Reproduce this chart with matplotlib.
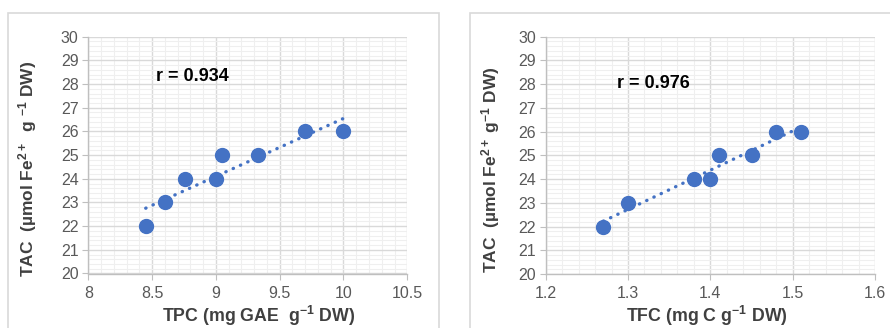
import numpy as np
import matplotlib
matplotlib.use('Agg')
import matplotlib.pyplot as plt
from matplotlib.patches import Rectangle
from matplotlib.ticker import MultipleLocator, FormatStrFormatter

plt.rcParams['font.family'] = ['Liberation Sans', 'DejaVu Sans']
plt.rcParams['mathtext.fontset'] = 'custom'
plt.rcParams['mathtext.rm'] = 'Liberation Sans:bold'
plt.rcParams['mathtext.it'] = 'Liberation Sans:bold'
plt.rcParams['mathtext.bf'] = 'Liberation Sans:bold'

# data
tpc = [8.45, 8.6, 8.76, 9.0, 9.05, 9.33, 9.7, 10.0]
tac_left = [22, 23, 24, 24, 25, 25, 26, 26]

tfc = [1.27, 1.30, 1.38, 1.40, 1.41, 1.45, 1.48, 1.51]
tac_right = [22, 23, 24, 24, 25, 25, 26, 26]

r_left = 'r = 0.934'
r_right = 'r = 0.976'

ylabel_left = r'TAC  (µmol Fe$^{2+}$  g $^{-1}$ DW)'
ylabel_right = r'TAC  (µmol Fe$^{2+}$ g$^{-1}$ DW)'
xlabel_left = r'TPC (mg GAE  g$^{-1}$ DW)'
xlabel_right = r'TFC (mg C g$^{-1}$ DW)'

blue = '#4472C4'
W, H = 890, 328

fig = plt.figure(figsize=(W / 100, H / 100), dpi=100)

# chart area borders
fig.patches.append(Rectangle((8 / W, -0.1), 431 / W, 1.1 - 13 / H,
                             transform=fig.transFigure, fill=False,
                             edgecolor='#D9D9D9', linewidth=1.2))
fig.patches.append(Rectangle((470 / W, -0.1), 0.5, 1.1 - 13 / H,
                             transform=fig.transFigure, fill=False,
                             edgecolor='#D9D9D9', linewidth=1.2))


def make_axes(x0, x1, y0, y1):
    return fig.add_axes([x0 / W, (H - y1) / H, (x1 - x0) / W, (y1 - y0) / H])


def style(ax, xlim, xmajor, xminor, xlab, ylab, ylab_x, xlab_xy, fmt):
    ax.set_xlim(*xlim)
    ax.set_ylim(20, 30)
    ax.xaxis.set_major_locator(MultipleLocator(xmajor))
    ax.xaxis.set_minor_locator(MultipleLocator(xminor))
    ax.xaxis.set_major_formatter(FormatStrFormatter(fmt))
    ax.yaxis.set_major_locator(MultipleLocator(1))
    ax.yaxis.set_minor_locator(MultipleLocator(0.2))
    ax.grid(which='minor', color='#EFEFEF', linewidth=0.8)
    ax.grid(which='major', color='#D9D9D9', linewidth=1.0)
    ax.set_axisbelow(True)
    for s in ['top', 'right']:
        ax.spines[s].set_visible(False)
    for s in ['left', 'bottom']:
        ax.spines[s].set_color('#BFBFBF')
        ax.spines[s].set_linewidth(1.0)
    ax.tick_params(which='major', length=4, color='#BFBFBF',
                   labelsize=11.5, labelcolor='#595959')
    ax.tick_params(which='minor', length=0)
    ax.tick_params(axis='x', pad=5)
    ax.tick_params(axis='y', pad=3)
    ax.set_ylabel(ylab, fontsize=12.5, fontweight='bold', color='#404040')
    ax.yaxis.set_label_coords(ylab_x, 0.44)
    ax.set_xlabel(xlab, fontsize=12.8, fontweight='bold', color='#404040')
    ax.xaxis.set_label_coords(*xlab_xy)


def draw(ax, x, y, rtext, rpos):
    k, b = np.polyfit(x, y, 1)
    xs = np.array([min(x), max(x)])
    ax.plot(xs, k * xs + b, color=blue, linewidth=2.4,
            linestyle=(0, (0.1, 2.3)), dash_capstyle='round', zorder=2)
    ax.plot(x, y, 'o', color=blue, markersize=10, zorder=3)
    ax.text(rpos[0], rpos[1], rtext, fontsize=13, fontweight='bold',
            color='black', va='center', ha='left')


ax1 = make_axes(88.3, 407.3, 36.7, 273.5)
style(ax1, (8, 10.5), 0.5, 0.1, xlabel_left, ylabel_left, -0.156,
      (0.535, -0.13), '%g')
draw(ax1, tpc, tac_left, r_left, (8.53, 28.34))

ax2 = make_axes(545.7, 875.0, 36.7, 274.0)
style(ax2, (1.2, 1.6), 0.1, 0.02, xlabel_right, ylabel_right, -0.134,
      (0.49, -0.127), '%.1f')
draw(ax2, tfc, tac_right, r_right, (1.287, 28.04))

fig.savefig('out.png', dpi=100)
